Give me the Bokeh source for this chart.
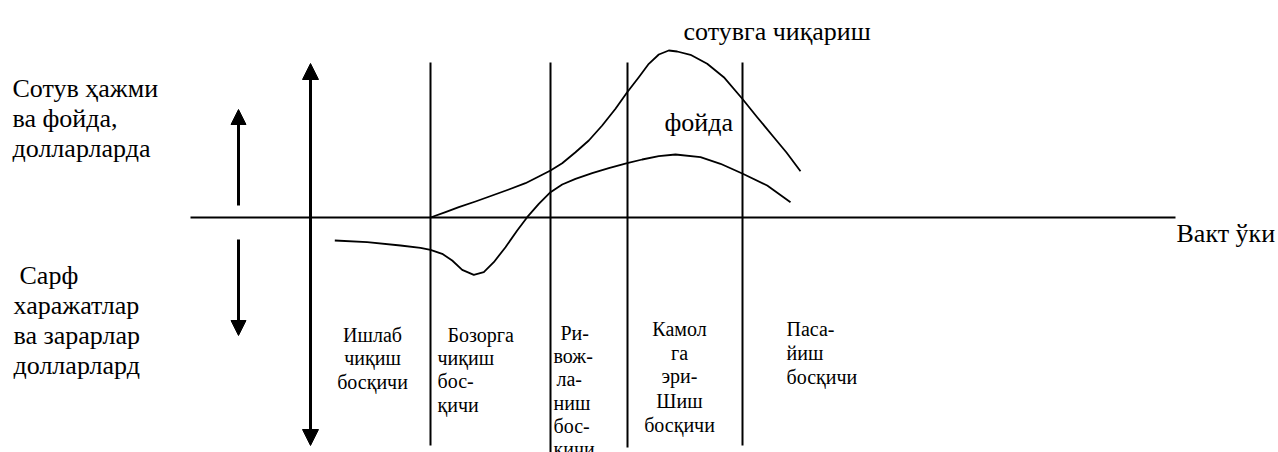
from bokeh.plotting import figure
from bokeh.models import Range1d, Arrow, NormalHead, Label
from bokeh.embed import file_html
from bokeh.resources import INLINE

# ---- data (x: time position, y: dollars relative to the time axis, + up) ----
sales_x = [430, 445, 458.3, 475, 491.7, 508.3, 525, 538.3, 550, 561.7, 575, 588.3, 601.7,
           615, 626.7, 638.3, 648.3, 658.3, 668.3, 676.7, 690, 706.7, 723.3, 742, 756.7,
           773.3, 786, 800]
sales_y = [0, 5.3, 10.3, 16, 22, 28, 34.3, 41, 47, 54.3, 65.3, 77, 92,
           108.7, 125.3, 140.3, 153.7, 163, 167, 166, 162.7, 153.7, 140.3, 118.5, 100.3,
           80.3, 65, 46.3]

profit_x = [334.3, 366.7, 400, 420, 430, 441.7, 451.7, 461.7, 473.3, 483.3, 493.3, 505,
            516.7, 526.7, 538.3, 550, 561.7, 575, 591.7, 608.3, 626.7, 641.7, 658.3, 675,
            700, 720, 742.3, 766.7, 790]
profit_y = [-23, -24.7, -28, -30.3, -32.3, -36.3, -43, -52.3, -57.3, -54.7, -44.7, -29.7,
            -13, 0.3, 13.7, 25.3, 33, 38.7, 44.3, 49.3, 54.3, 58, 61.3, 63,
            60.3, 53.7, 43.7, 32, 15.3]

stage_bounds = [430, 550, 627, 742]
stage_tops = [155, 155, 155, 155]
stage_bottoms = [-228, -240, -230, -228]

time_axis_x = [190, 1175]

sales_label = "сотувга чиқариш"
profit_label = "фойда"
time_label = "Вакт ўки"
upper_label = ["Сотув ҳажми", "ва фойда,", "долларларда"]
lower_label = ["Сарф", "харажатлар", "ва зарарлар", "долларлард"]

stage1 = ["Ишлаб", "чиқиш", "босқичи"]
stage2 = ["Бозорга", "чиқиш", "бос-", "қичи"]
stage3 = ["Ри-", "вож-", "ла-", "ниш", "бос-", "кичи"]
stage4 = ["Камол", "га", "эри-", "Шиш", "босқичи"]
stage5 = ["Паса-", "йиш", "босқичи"]

# ---- figure ----
AX = 217  # page-pixel row of the time axis
p = figure(width=1278, height=452, output_backend="svg", toolbar_location=None,
           x_range=Range1d(0, 1278), y_range=Range1d(AX - 452, AX),
           x_axis_location=None, y_axis_location=None, min_border=0,
           min_border_left=0, min_border_right=0, min_border_top=0, min_border_bottom=0)
p.grid.visible = False
p.outline_line_color = None
p.background_fill_color = "white"
p.border_fill_color = "white"

# time axis
p.line(time_axis_x, [0, 0], line_color="black", line_width=2)
# stage boundaries
p.segment(x0=stage_bounds, y0=stage_bottoms, x1=stage_bounds, y1=stage_tops,
          line_color="black", line_width=2)
# curves
p.line(sales_x, sales_y, line_color="black", line_width=1.8, line_join="round")
p.line(profit_x, profit_y, line_color="black", line_width=1.8, line_join="round")

# arrows
def head(s):
    return NormalHead(size=s, fill_color="black", line_color="black", line_width=1)

p.add_layout(Arrow(start=head(16), end=head(16), x_start=310, y_start=AX - 445,
                   x_end=310, y_end=AX - 63, line_width=3, line_color="black"))
p.add_layout(Arrow(end=head(15), x_start=238, y_start=AX - 205, x_end=238, y_end=AX - 109,
                   line_width=3, line_color="black"))
p.add_layout(Arrow(end=head(15), x_start=238, y_start=AX - 239, x_end=238, y_end=AX - 335,
                   line_width=3, line_color="black"))

FONT = "Liberation Serif"

def lines(texts, xs, ys, size, align="left"):
    for t, x, y in zip(texts, xs, ys):
        p.add_layout(Label(x=x, y=y, text=t, text_font=FONT, text_font_size=size,
                           text_align=align, text_baseline="alphabetic",
                           text_color="black"))

big = "26px"
small = "20px"
lines([sales_label], [683], [AX - 31], big)
lines([profit_label], [664], [AX - 122], big)
lines([time_label], [1176], [AX - 233], big)
lines(upper_label, [12] * 3, [AX - 88, AX - 118, AX - 148], big)
lines(lower_label, [19, 13, 13, 13], [AX - 275, AX - 305, AX - 335, AX - 365], big)

lines(stage1, [372] * 3, [AX - 334, AX - 357.5, AX - 381.5], small, "center")
lines(stage2, [447, 437, 437, 437], [AX - 334, AX - 357.5, AX - 380.5, AX - 404], small)
lines(stage3, [560, 553, 556, 553, 553, 553],
      [AX - 332, AX - 355, AX - 378.5, AX - 402, AX - 425, AX - 448.5], small)
lines(stage4, [679] * 5, [AX - 328, AX - 352, AX - 375.5, AX - 400, AX - 424], small, "center")
lines(stage5, [786] * 3, [AX - 328, AX - 352, AX - 376], small)

open("out.html", "w").write(file_html(p, INLINE))
